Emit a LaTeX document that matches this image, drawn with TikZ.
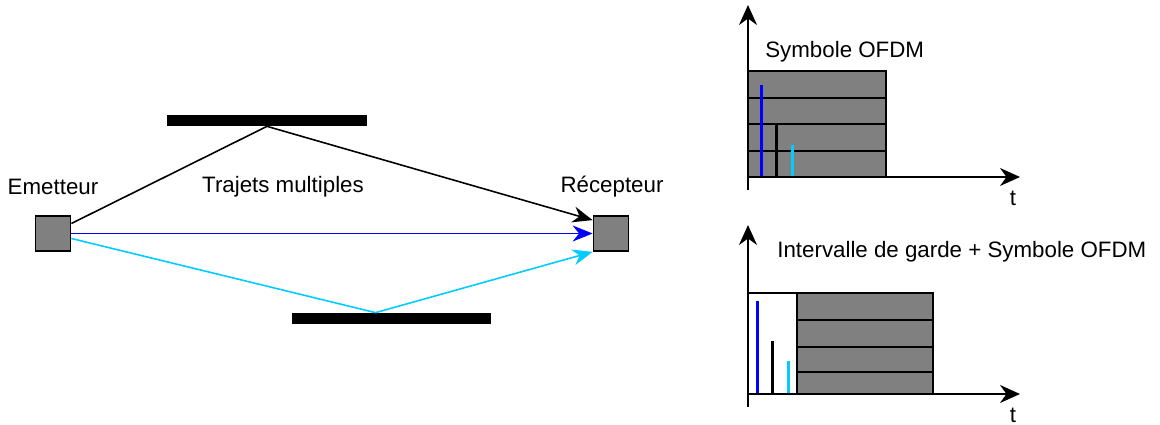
\documentclass[tikz,border=0pt]{standalone}
\usepackage{fontspec}
\setmainfont{Liberation Sans}
\usetikzlibrary{arrows.meta}

\definecolor{boxgray}{RGB}{128,128,128}
\definecolor{pathcyan}{RGB}{0,204,255}

\begin{document}
\begin{tikzpicture}[x=0.02cm, y=-0.02cm, font=\fontsize{12.7}{15}\selectfont]
    \tikzstyle{station} = [rectangle, draw, line width=1pt, fill=boxgray, minimum size=0.7cm, inner sep=0pt]
    \tikzstyle{wall} = [rectangle, fill=black, minimum width=4cm, minimum height=0.22cm, inner sep=0pt]
    \tikzstyle{txt} = [inner sep=0pt]
    \tikzstyle{ray} = [line width=0.9pt, -{Stealth[length=0.4cm, width=0.32cm]}]
    \tikzstyle{axis} = [line width=1pt, -{Stealth[length=0.4cm, width=0.36cm]}]
    \tikzstyle{slot} = [draw, line width=1pt, fill=boxgray]
    \tikzstyle{echo} = [line width=1.7pt]

    \useasboundingbox (0,0) rectangle (1160,425);

    % channel
    \node[station] (emt) at (53, 233.5) {};
    \node[station] (rcv) at (611, 233.5) {};
    \node[txt] (emttxt) at (53, 187) {Emetteur};
    \node[txt] (rcvtxt) at (612, 187) {Récepteur};
    \node[txt] (multi) at (283, 187) {Trajets multiples};

    \node[wall] (up) at (267, 120.5) {};
    \node[wall] (down) at (391.5, 318.5) {};

    \draw[ray] ([yshift=0.2cm]emt.east) -- (up.south) -- ([yshift=-0.1cm]rcv.north west);
    \draw[ray, blue] (emt.east) -- (rcv.west);
    \draw[ray, pathcyan] ([yshift=-0.1cm]emt.east) -- ([xshift=-0.32cm]down.north) -- (rcv.south west);

    % symbole OFDM
    \draw[slot] (748, 71) rectangle (886, 177);
    \foreach \y in {98, 124, 151}
        \draw[line width=1pt] (748, \y) -- (886, \y);
    \draw[echo, blue] (761, 85) -- (761, 177);
    \draw[echo] (776, 124) -- (776, 177);
    \draw[echo, pathcyan] (792, 145) -- (792, 177);
    \draw[axis] (748, 190) -- (748, 5);
    \draw[axis] (748, 177) -- (1020, 177);
    \node[txt, anchor=west] (sym) at (765, 52) {Symbole OFDM};
    \node[txt] (t1) at (1013, 198) {t};

    % intervalle de garde + symbole
    \draw[line width=1pt, fill=white] (748, 293) rectangle (797, 394);
    \draw[slot] (797, 293) rectangle (933, 394);
    \foreach \y in {320, 347, 372}
        \draw[line width=1pt] (797, \y) -- (933, \y);
    \draw[echo, blue] (757, 301) -- (757, 394);
    \draw[echo] (772, 341) -- (772, 394);
    \draw[echo, pathcyan] (788, 361) -- (788, 394);
    \draw[axis] (748, 407) -- (748, 225);
    \draw[axis] (748, 394) -- (1020, 394);
    \node[txt, anchor=west] (gi) at (777, 252) {Intervalle de garde + Symbole OFDM};
    \node[txt] (t2) at (1013, 415) {t};
\end{tikzpicture}
\end{document}
